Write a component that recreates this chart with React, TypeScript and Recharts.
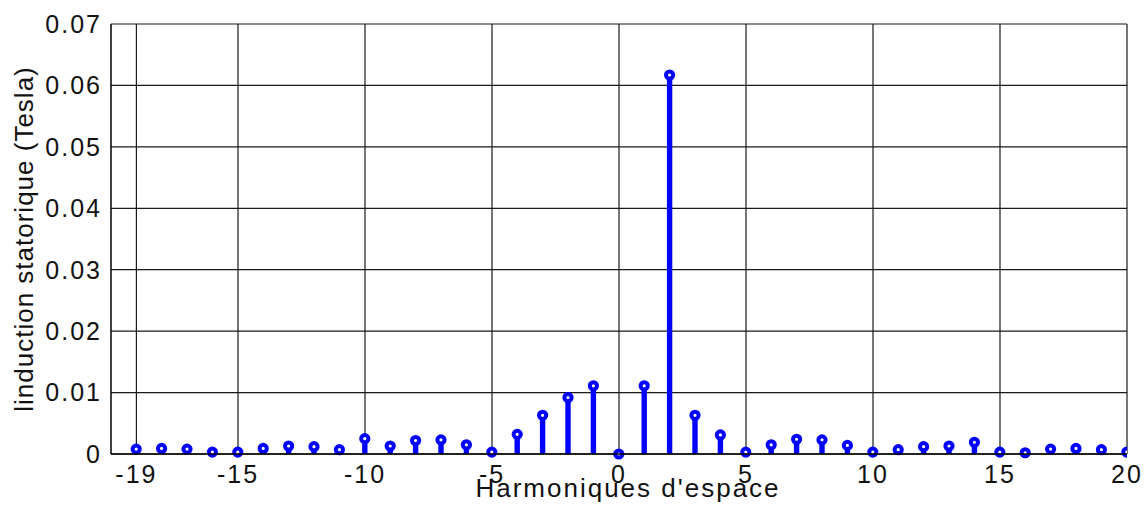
import React from 'react';
import { ComposedChart, Bar, XAxis, YAxis, CartesianGrid, Label } from 'recharts';

const harmonics = [-19,-18,-17,-16,-15,-14,-13,-12,-11,-10,-9,-8,-7,-6,-5,-4,-3,-2,-1,0,1,2,3,4,5,6,7,8,9,10,11,12,13,14,15,16,17,18,19,20];
const induction = [0.0008,0.0009,0.0008,0.0003,0.0003,0.0009,0.0013,0.0012,0.0007,0.0025,0.0013,0.0022,0.0023,0.0015,0.0003,0.0032,0.0063,0.0092,0.0111,0,0.0111,0.0617,0.0063,0.0031,0.0003,0.0015,0.0024,0.0023,0.0014,0.0003,0.0007,0.0012,0.0013,0.0019,0.0003,0.0002,0.0008,0.0009,0.0007,0.0003];
const xTicks = [-19,-15,-10,-5,0,5,10,15,20];
const yTicks = [0,0.01,0.02,0.03,0.04,0.05,0.06,0.07];

const data = harmonics.map((h, i) => ({ h, v: induction[i] }));

const BLUE = '#0000ff';

const Stem = (props: any) => {
  const { x, y, width, height } = props;
  const cx = x + width / 2;
  const h = Math.max(0, height);
  return (
    <g>
      <rect x={cx - 2.7} y={y} width={5.4} height={h} fill={BLUE} />
      <circle cx={cx} cy={y} r={3.6} fill="#ffffff" stroke={BLUE} strokeWidth={4} />
    </g>
  );
};

const font = 'Liberation Sans, Arial, sans-serif';

export default function App() {
  return (
    <div style={{ position: 'absolute', left: 0, top: 0, width: 1147, height: 506, background: '#fff' }}>
      <ComposedChart width={1147} height={506} data={data} margin={{ top: 24, right: 20, bottom: 0, left: 0 }}>
        <CartesianGrid stroke="#1a1a1a" strokeWidth={1.2} verticalValues={xTicks} horizontalValues={yTicks} />
        <XAxis
          dataKey="h"
          type="number"
          domain={[-20, 20]}
          ticks={xTicks}
          interval={0}
          allowDataOverflow
          height={52}
          axisLine={{ stroke: '#000', strokeWidth: 1.5 }}
          tickLine={false}
          tick={{ fill: '#111', fontSize: 25, fontFamily: font, letterSpacing: 2 }}
          tickMargin={5}
        >
          <Label value="Harmoniques d'espace" position="insideBottom" offset={9} dx={9} style={{ fill: '#111', fontSize: 26, fontFamily: font, letterSpacing: 2 }} />
        </XAxis>
        <YAxis
          type="number"
          domain={[0, 0.07]}
          ticks={yTicks}
          interval={0}
          width={111}
          axisLine={{ stroke: '#000', strokeWidth: 1.5 }}
          tickLine={false}
          tickMargin={3}
          tickFormatter={(v: number) => (v === 0 ? '0' : v.toFixed(2))}
          tick={{ fill: '#111', fontSize: 25, fontFamily: font, letterSpacing: 2 }}
        >
          <Label value="linduction statorique (Tesla)" angle={-90} position="insideLeft" offset={24} style={{ fill: '#111', fontSize: 26, fontFamily: font, letterSpacing: 1, textAnchor: 'middle' }} />
        </YAxis>
        <Bar dataKey="v" barSize={5} shape={Stem} isAnimationActive={false} />
      </ComposedChart>
    </div>
  );
}
